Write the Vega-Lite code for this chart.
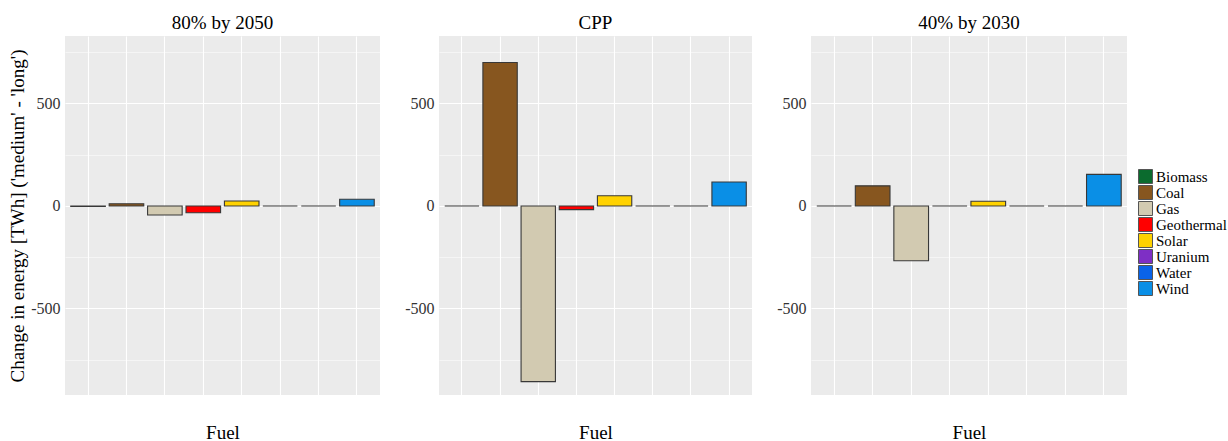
{
  "$schema": "https://vega.github.io/schema/vega-lite/v6.json",
  "background": "white",
  "padding": {"left": 8, "top": 14, "right": 0, "bottom": 0},
  "spacing": 24,
  "datasets": {
    "energy": [
      {"scenario": "80% by 2050", "fuel": "Biomass", "change": -2},
      {"scenario": "80% by 2050", "fuel": "Coal", "change": 11},
      {"scenario": "80% by 2050", "fuel": "Gas", "change": -44},
      {"scenario": "80% by 2050", "fuel": "Geothermal", "change": -33},
      {"scenario": "80% by 2050", "fuel": "Solar", "change": 24},
      {"scenario": "80% by 2050", "fuel": "Uranium", "change": 0},
      {"scenario": "80% by 2050", "fuel": "Water", "change": 0},
      {"scenario": "80% by 2050", "fuel": "Wind", "change": 33},
      {"scenario": "CPP", "fuel": "Biomass", "change": 0},
      {"scenario": "CPP", "fuel": "Coal", "change": 700},
      {"scenario": "CPP", "fuel": "Gas", "change": -857},
      {"scenario": "CPP", "fuel": "Geothermal", "change": -18},
      {"scenario": "CPP", "fuel": "Solar", "change": 50},
      {"scenario": "CPP", "fuel": "Uranium", "change": 0},
      {"scenario": "CPP", "fuel": "Water", "change": 0},
      {"scenario": "CPP", "fuel": "Wind", "change": 117},
      {"scenario": "40% by 2030", "fuel": "Biomass", "change": 0},
      {"scenario": "40% by 2030", "fuel": "Coal", "change": 98},
      {"scenario": "40% by 2030", "fuel": "Gas", "change": -267},
      {"scenario": "40% by 2030", "fuel": "Geothermal", "change": 0},
      {"scenario": "40% by 2030", "fuel": "Solar", "change": 23},
      {"scenario": "40% by 2030", "fuel": "Uranium", "change": 0},
      {"scenario": "40% by 2030", "fuel": "Water", "change": 0},
      {"scenario": "40% by 2030", "fuel": "Wind", "change": 154}
    ]
  },
  "hconcat": [
    {
      "width": 315, "height": 359,
      "title": "80% by 2050",
      "data": {"name": "energy"},
      "transform": [{"filter": "datum.scenario === '80% by 2050'"}],
      "mark": {"type": "bar", "stroke": "#383838", "strokeWidth": 1.1},
      "encoding": {
        "x": {"field": "fuel", "type": "nominal", "sort": ["Biomass","Coal","Gas","Geothermal","Solar","Uranium","Water","Wind"],
              "scale": {"paddingInner": 0.1, "paddingOuter": 0.15},
              "axis": {"title": "Fuel", "labels": false, "ticks": false, "domain": false, "grid": true, "bandPosition": 0.5, "titlePadding": 28}},
        "y": {"field": "change", "type": "quantitative",
              "scale": {"domain": [-922, 829], "nice": false, "zero": false},
              "axis": {"title": "Change in energy [TWh] ('medium' - 'long')", "titlePadding": 3, "values": [-750, -500, -250, 0, 250, 500, 750]}},
        "color": {"field": "fuel", "type": "nominal",
                  "scale": {"domain": ["Biomass","Coal","Gas","Geothermal","Solar","Uranium","Water","Wind"],
                            "range": ["#0B6B2E","#87561F","#D2CAB1","#FF0000","#FFD200","#7E2FC5","#0A63E8","#0A8FE6"]}}
      }
    },
    {
      "width": 313, "height": 359,
      "title": "CPP",
      "data": {"name": "energy"},
      "transform": [{"filter": "datum.scenario === 'CPP'"}],
      "mark": {"type": "bar", "stroke": "#383838", "strokeWidth": 1.1},
      "encoding": {
        "x": {"field": "fuel", "type": "nominal", "sort": ["Biomass","Coal","Gas","Geothermal","Solar","Uranium","Water","Wind"],
              "scale": {"paddingInner": 0.1, "paddingOuter": 0.15},
              "axis": {"title": "Fuel", "labels": false, "ticks": false, "domain": false, "grid": true, "bandPosition": 0.5, "titlePadding": 28}},
        "y": {"field": "change", "type": "quantitative",
              "scale": {"domain": [-922, 829], "nice": false, "zero": false},
              "axis": {"title": null, "values": [-750, -500, -250, 0, 250, 500, 750]}},
        "color": {"field": "fuel", "type": "nominal"}
      }
    },
    {
      "width": 316, "height": 359,
      "title": "40% by 2030",
      "data": {"name": "energy"},
      "transform": [{"filter": "datum.scenario === '40% by 2030'"}],
      "mark": {"type": "bar", "stroke": "#383838", "strokeWidth": 1.1},
      "encoding": {
        "x": {"field": "fuel", "type": "nominal", "sort": ["Biomass","Coal","Gas","Geothermal","Solar","Uranium","Water","Wind"],
              "scale": {"paddingInner": 0.1, "paddingOuter": 0.15},
              "axis": {"title": "Fuel", "labels": false, "ticks": false, "domain": false, "grid": true, "bandPosition": 0.5, "titlePadding": 28}},
        "y": {"field": "change", "type": "quantitative",
              "scale": {"domain": [-922, 829], "nice": false, "zero": false},
              "axis": {"title": null, "values": [-750, -500, -250, 0, 250, 500, 750]}},
        "color": {"field": "fuel", "type": "nominal"}
      }
    }
  ],
  "resolve": {"scale": {"color": "shared", "y": "independent"}},
  "config": {
    "font": "Liberation Serif",
    "view": {"fill": "#EBEBEB", "stroke": null},
    "title": {"font": "Liberation Serif", "fontSize": 19, "fontWeight": "normal", "color": "black", "offset": 3, "anchor": "middle"},
    "axis": {
      "gridColor": "white", "gridOpacity": 1, "gridWidth": 1.1,
      "titleFont": "Liberation Serif", "titleFontSize": 19, "titleFontWeight": "normal", "titleColor": "black",
      "labelFont": "Liberation Serif", "labelFontSize": 16, "labelColor": "#333333"
    },
    "axisY": {
      "labelExpr": "datum.value % 500 === 0 ? '' + datum.value : ''",
      "labelOverlap": false,
      "domain": false,
      "tickSize": 3, "tickColor": "#333333",
      "tickOpacity": {"condition": {"test": "datum.value % 500 === 0", "value": 1}, "value": 0},
      "gridWidth": {"condition": {"test": "datum.value % 500 === 0", "value": 1.1}, "value": 0.5},
      "labelPadding": 2
    },
    "legend": {
      "orient": "none", "legendX": 1073, "legendY": 133,
      "title": null,
      "symbolType": "square", "symbolSize": 196, "symbolStrokeColor": "#555555", "symbolStrokeWidth": 1,
      "symbolOpacity": 1,
      "labelFont": "Liberation Serif", "labelFontSize": 15, "labelColor": "black", "labelOffset": 3,
      "clipHeight": 15,
      "rowPadding": 0
    }
  }
}
